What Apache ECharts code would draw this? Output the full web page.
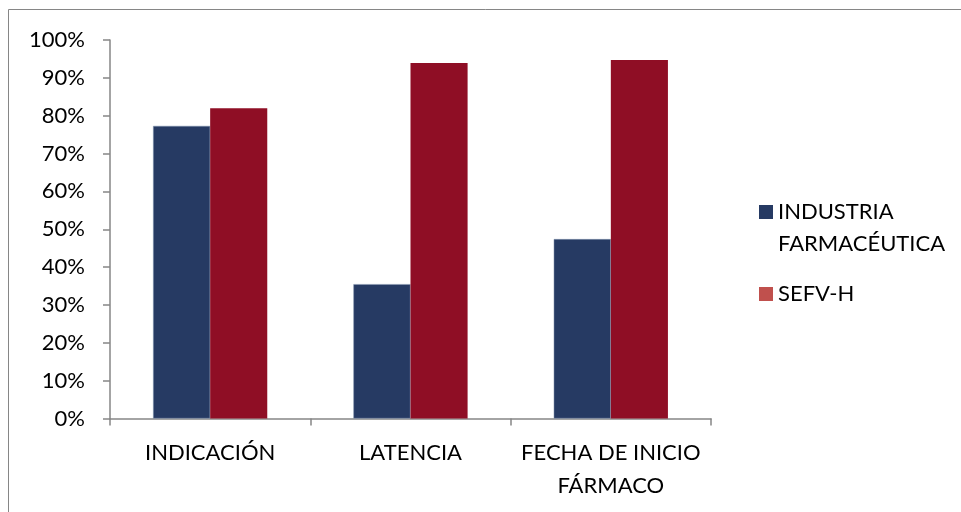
<!DOCTYPE html>
<html>
<head>
<meta charset="utf-8">
<title>Chart</title>
<style>
  html, body { margin: 0; padding: 0; background: #fff; }
  #chart { width: 961px; height: 512px; }
</style>
</head>
<body>
<div id="chart"></div>
<script src="https://cdn.jsdelivr.net/npm/echarts@6/dist/echarts.min.js"></script>
<script>
var categorias = ['INDICACIÓN', 'LATENCIA', 'FECHA DE INICIO\nFÁRMACO'];
var industria = [0.773, 0.355, 0.474];
var sefv = [0.820, 0.939, 0.947];
var nombres = ['INDUSTRIA FARMACÉUTICA', 'SEFV-H'];

var fuente = 'Lato';
var myChart = echarts.init(document.getElementById('chart'));

var option = {
    animation: false,
    textStyle: { fontFamily: fuente },
    graphic: [{
        type: 'rect',
        shape: { x: 8.5, y: 9.5, width: 960, height: 510 },
        style: { fill: 'none', stroke: '#868686', lineWidth: 1 },
        silent: true
    }],
    grid: { left: 110, right: 250, top: 40, bottom: 93.5 },
    legend: {
        orient: 'vertical',
        left: 754,
        top: 159,
        icon: 'rect',
        itemWidth: 14,
        itemHeight: 14,
        itemGap: 18,
        textStyle: { fontSize: 22, color: '#000', lineHeight: 32, fontFamily: fuente },
        // linea en blanco arriba para que el cuadro quede con la primera linea
        formatter: function (n) {
            return n.indexOf(' ') > 0 ? ' \n' + n.replace(' ', '\n') : n;
        },
        data: [
            { name: nombres[0], itemStyle: { borderWidth: 0 } },
            { name: nombres[1], itemStyle: { color: '#C0504D' } }
        ]
    },
    xAxis: {
        type: 'category',
        data: categorias,
        axisLine: { lineStyle: { color: '#868686', width: 1.5 } },
        axisTick: { show: true, length: 7, lineStyle: { color: '#868686', width: 1.5 } },
        axisLabel: { interval: 0, fontSize: 22, color: '#000', margin: 18, lineHeight: 33, fontFamily: fuente }
    },
    yAxis: {
        type: 'value',
        min: 0,
        max: 1,
        interval: 0.1,
        splitLine: { show: false },
        axisLine: { show: true, lineStyle: { color: '#868686', width: 1.5 } },
        axisTick: { show: true, length: 7, lineStyle: { color: '#868686', width: 1.5 } },
        axisLabel: {
            fontSize: 22, color: '#000', margin: 25, fontFamily: fuente,
            formatter: function (v) { return Math.round(v * 100) + '%'; }
        }
    },
    series: [
        {
            name: nombres[0],
            type: 'bar',
            data: industria,
            barGap: '0%',
            barCategoryGap: '43%',
            itemStyle: { color: '#263A63', borderColor: '#8497B0', borderWidth: 0.5 }
        },
        {
            name: nombres[1],
            type: 'bar',
            data: sefv,
            itemStyle: { color: '#8F0E25' }
        }
    ]
};

myChart.setOption(option);
</script>
</body>
</html>
